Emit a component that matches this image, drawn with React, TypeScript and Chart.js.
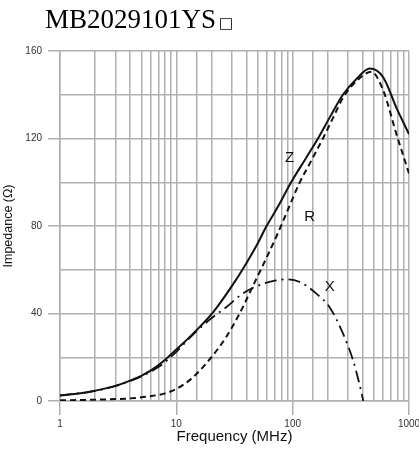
import React, { useEffect, useRef } from "react";
import { Chart, registerables } from "chart.js";

Chart.register(...registerables);

// ---- text ----
const TITLE = "MB2029101YS";
const TITLE_MARK = "□";
const X_TITLE = "Frequency (MHz)";
const Y_TITLE = "Impedance (Ω)";
const X_TICK_LABELS = [1, 10, 100, 1000];
const Y_TICK_LABELS = [0, 40, 80, 120, 160];

// ---- series (frequency in MHz, impedance in Ω) ----
const zFreq = [1, 1.5, 2, 3, 4, 5, 7, 10, 15, 21, 30, 40, 50, 59, 75, 97, 130, 165, 210, 270, 350, 460, 600, 780, 1000];
const zVal = [2.5, 3.5, 4.7, 6.9, 9.3, 11.5, 16.3, 23.5, 32.5, 41, 52.5, 63, 72, 79.5, 89, 100, 111, 120, 130, 140, 147, 152, 148, 134, 122];

const rFreq = [1, 2, 4, 6, 8, 10, 14, 20, 27, 35, 45, 59, 75, 92, 114, 145, 182, 225, 270, 350, 475, 600, 780, 1000];
const rVal = [0.3, 0.6, 1.2, 2.2, 3.5, 5.5, 11, 20, 29.5, 40, 52, 65, 77, 88, 99.5, 110, 120, 130, 138.5, 146, 150.5, 142, 122, 104];

const xFreq = [1, 2, 4, 7, 10, 14, 20, 27, 37, 52, 70, 85, 114, 159, 207, 270, 330, 370, 405];
const xVal = [2.5, 4.6, 9.1, 15.5, 22.5, 30.5, 37.8, 43, 49, 53, 55, 55.6, 54.5, 49.2, 43, 31, 18.7, 9, 0];

// ---- curve labels (placed in data units) ----
const CURVE_LABELS = ["Z", "R", "X"];
const LABEL_FREQ = [94, 140, 208];
const LABEL_VAL = [111, 84, 52];

const SANS = '"Liberation Sans", Arial, Helvetica, sans-serif';
const GRID = "#b0b0b0";
const INK = "#111111";

const toPoints = (f: number[], v: number[]) => f.map((x, i) => ({ x, y: v[i] }));
const isDecade = (v: number) => Math.abs(Math.log10(v) - Math.round(Math.log10(v))) < 1e-9;

const curveLabelPlugin = {
  id: "curveLabels",
  afterDatasetsDraw(chart: any) {
    const { ctx, scales } = chart;
    ctx.save();
    ctx.font = `15px ${SANS}`;
    ctx.fillStyle = INK;
    ctx.textAlign = "center";
    ctx.textBaseline = "middle";
    CURVE_LABELS.forEach((t, i) => {
      ctx.fillText(t, scales.x.getPixelForValue(LABEL_FREQ[i]), scales.y.getPixelForValue(LABEL_VAL[i]));
    });
    ctx.restore();
  },
};

const titlePlugin = {
  id: "pageTitle",
  afterDraw(chart: any) {
    const ctx = chart.ctx;
    ctx.save();
    ctx.fillStyle = "#000";
    ctx.textAlign = "left";
    ctx.textBaseline = "alphabetic";
    ctx.font = '27px "Liberation Serif", "Times New Roman", serif';
    ctx.fillText(TITLE, 45, 28);
    const w = ctx.measureText(TITLE).width;
    ctx.font = '15px "DejaVu Sans", sans-serif';
    ctx.fillText(TITLE_MARK, 45 + w + 3, 28);
    ctx.restore();
  },
};

export default function App() {
  const ref = useRef<HTMLCanvasElement | null>(null);

  useEffect(() => {
    if (!ref.current) return;
    const chart = new Chart(ref.current, {
      type: "line",
      data: {
        datasets: [
          {
            label: "Z",
            data: toPoints(zFreq, zVal),
            borderColor: INK,
            borderWidth: 2,
            pointRadius: 0,
            cubicInterpolationMode: "monotone",
          },
          {
            label: "R",
            data: toPoints(rFreq, rVal),
            borderColor: INK,
            borderWidth: 2,
            borderDash: [6, 4],
            pointRadius: 0,
            cubicInterpolationMode: "monotone",
          },
          {
            label: "X",
            data: toPoints(xFreq, xVal),
            borderColor: INK,
            borderWidth: 1.8,
            borderDash: [12, 5, 2, 5],
            pointRadius: 0,
            cubicInterpolationMode: "monotone",
          },
        ],
      },
      options: {
        responsive: false,
        animation: false,
        layout: { padding: { top: 51, right: 10, left: 0, bottom: 0 } },
        plugins: {
          legend: { display: false },
          tooltip: { enabled: false },
          title: { display: false },
        },
        scales: {
          x: {
            type: "logarithmic",
            min: 1,
            max: 1000,
            grid: {
              color: GRID,
              lineWidth: 1.5,
              tickLength: 14,
              tickColor: (c: any) => (c.tick && isDecade(c.tick.value) ? GRID : "rgba(0,0,0,0)"),
            },
            border: { color: GRID, width: 1.5 },
            ticks: {
              autoSkip: false,
              maxRotation: 0,
              padding: 3,
              color: "#333",
              font: { size: 10, family: SANS },
              callback: (v: any) => (X_TICK_LABELS.some((t) => Math.abs(t - Number(v)) < 1e-9) ? String(v) : ""),
            },
            title: {
              display: true,
              text: X_TITLE,
              color: INK,
              font: { size: 15, family: SANS },
              padding: { top: 0, bottom: 5 },
            },
            afterFit: (s: any) => {
              s.height = 50;
              s.paddingLeft = 0;
              s.paddingRight = 0;
            },
          },
          y: {
            min: 0,
            max: 160,
            grid: {
              color: GRID,
              lineWidth: 1.5,
              tickLength: 12,
              tickColor: (c: any) => (c.tick && Y_TICK_LABELS.includes(c.tick.value) ? GRID : "rgba(0,0,0,0)"),
            },
            border: { color: GRID, width: 1.5 },
            ticks: {
              stepSize: 20,
              padding: 6,
              color: "#333",
              font: { size: 10, family: SANS },
              callback: (v: any) => (Y_TICK_LABELS.includes(Number(v)) ? String(v) : ""),
            },
            title: {
              display: true,
              text: Y_TITLE,
              color: INK,
              font: { size: 12.5, family: SANS },
              padding: { top: 1, bottom: 0 },
            },
            afterFit: (s: any) => {
              s.width = 60;
              s.paddingTop = 0;
              s.paddingBottom = 0;
            },
          },
        },
      },
      plugins: [curveLabelPlugin, titlePlugin],
    } as any);
    return () => chart.destroy();
  }, []);

  return (
    <div style={{ position: "fixed", left: 0, top: 0, width: 419, height: 451, background: "#fff" }}>
      <canvas ref={ref} width={419} height={451} style={{ display: "block" }} />
    </div>
  );
}
